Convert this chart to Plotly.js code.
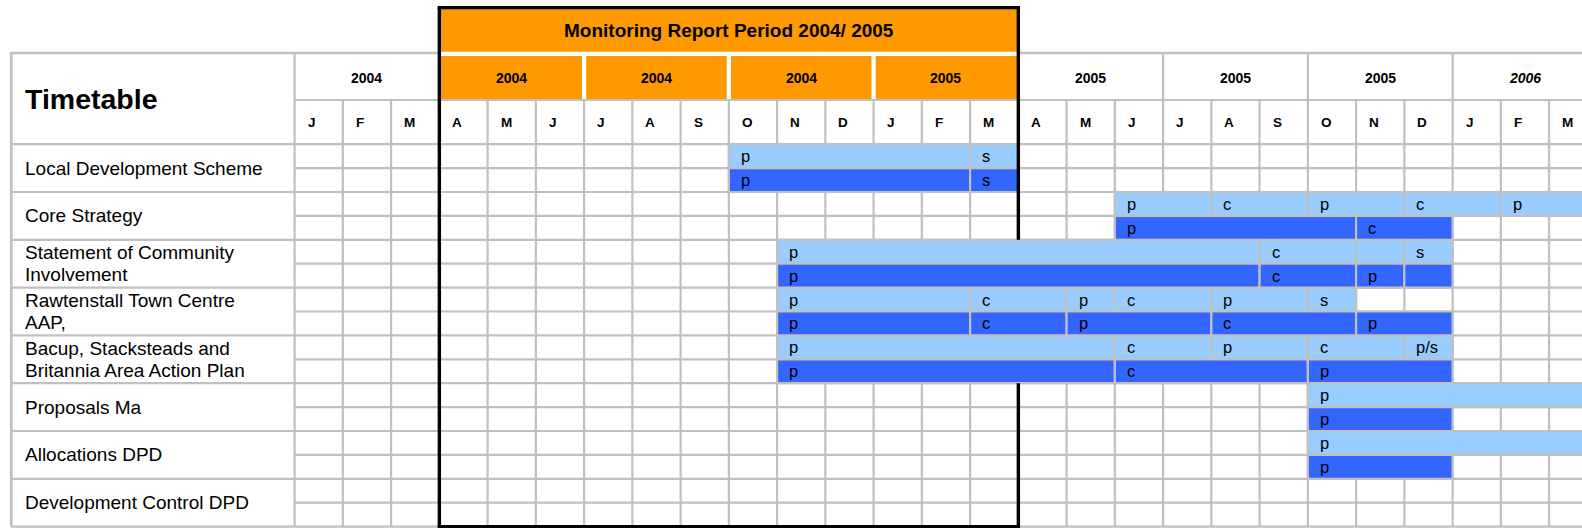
<!DOCTYPE html>
<html>
<head>
<meta charset="utf-8">
<script src="https://cdn.plot.ly/plotly-3.0.1.min.js"></script>
<style>html,body{margin:0;padding:0;background:#fff;}#chart{width:1582px;height:528px;}</style>
</head>
<body>
<div id="chart"></div>
<script>
// ---------- DATA ----------
const headerTitle = 'Timetable';
const periodTitle = 'Monitoring Report Period 2004/ 2005';
const monthLetters = ['J','F','M','A','M','J','J','A','S','O','N','D','J','F','M','A','M','J','J','A','S','O','N','D','J','F','M'];
const quarterYears = ['2004','2004','2004','2004','2005','2005','2005','2005','<i>2006</i>'];
const tasks = ['Local Development Scheme', 'Core Strategy', 'Statement of Community<br>Involvement',
  'Rawtenstall Town Centre<br>AAP,', 'Bacup, Stacksteads and<br>Britannia Area Action Plan',
  'Proposals Ma', 'Allocations DPD', 'Development Control DPD'];

// upper (light) sub-row segments: task index, start month index, end month index, stage label
const lightTask  = [0,0, 1,1,1,1,1, 2,2,2,2, 3,3,3,3,3,3, 4,4,4,4,4, 5, 6];
const lightStart = [9,14, 17,19,21,23,25, 10,20,22,23, 10,14,16,17,19,21, 10,17,19,21,23, 21, 21];
const lightEnd   = [14,15, 19,21,23,25,27, 20,22,23,24, 14,16,17,19,21,22, 17,19,21,23,24, 27, 27];
const lightLabel = ['p','s', 'p','c','p','c','p', 'p','c','','s', 'p','c','p','c','p','s', 'p','c','p','c','p/s', 'p','p'];

// lower (dark) sub-row segments
const darkTask  = [0,0, 1,1, 2,2,2,2, 3,3,3,3,3, 4,4,4, 5, 6];
const darkStart = [9,14, 17,22, 10,20,22,23, 10,14,16,19,22, 10,17,21, 21, 21];
const darkEnd   = [14,15, 22,24, 20,22,23,24, 14,16,19,22,24, 17,21,24, 24, 24];
const darkLabel = ['p','s', 'p','c', 'p','c','p','', 'p','c','p','c','p', 'p','c','p', 'p','p'];

// monitoring period (month index range) highlighted in orange
const periodStart = 3, periodEnd = 15;

// ---------- LAYOUT GEOMETRY ----------
const W = 1582, H = 528;
const X0 = 294.6, MW = 48.25;   // left edge of month grid, month width (px)
const Y0 = 144.2, SH = 23.9;    // top of task grid, sub-row height (px)
const px2x = p => (p - X0) / MW;
const px2y = p => (p - Y0) / SH;
const FONT = 'Liberation Sans, Arial, Helvetica, sans-serif';
const GRID = '#c0c0c0', GW = 2.2;
const ORANGE = '#ff9900', LIGHT = '#99ccff', DARK = '#3366ff';
const nSub = tasks.length * 2;
const nMonths = monthLetters.length;

const shapes = [];
function line(x0, y0, x1, y1, color, width, layer) {
  shapes.push({type:'line', xref:'x', yref:'y', x0, y0, x1, y1, line:{color, width}, layer: layer || 'below'});
}
function rect(x0, y0, x1, y1, fill) {
  shapes.push({type:'rect', xref:'x', yref:'y', x0, y0, x1, y1, fillcolor: fill, line:{width:0}, layer:'below'});
}

// orange header blocks
rect(periodStart, px2y(7.6), periodEnd, px2y(51.7), ORANGE);
const gap = 2.1 / MW;
for (let q = periodStart; q < periodEnd; q += 3) {
  rect(q === periodStart ? q : q + gap, px2y(56), q + 3 === periodEnd ? q + 3 : q + 3 - gap, px2y(99.2), ORANGE);
}

// grid: table top border, left border
line(px2x(10), px2y(53), periodStart, px2y(53), GRID, 2.6);
line(periodEnd, px2y(53), px2x(W), px2y(53), GRID, 2.6);
line(px2x(11.3), px2y(53), px2x(11.3), nSub, GRID, 2.7);
// header row separators
line(0, px2y(100), px2x(W), px2y(100), GRID, GW);
// vertical lines
line(0, px2y(53), 0, nSub, GRID, GW);
for (let k = 1; k <= nMonths; k++) {
  const fromTop = (k % 3 === 0) && (k <= periodStart || k >= periodEnd);
  line(k, fromTop ? px2y(53) : px2y(100), k, nSub, GRID, GW);
}
// horizontal sub-row lines
for (let i = 0; i <= nSub; i++) {
  line(i % 2 === 0 ? px2x(11.3) : 0, i, px2x(W), i, GRID, GW);
}

// black monitoring period box (bars that run across the period edge are drawn over it)
const BK = '#000', BW = 3.4, topY = px2y(7.6), half = (BW / 2) / MW;
line(periodStart - half, topY, periodEnd + half, topY, BK, BW, 'above');
line(periodStart - half, nSub, periodEnd + half, nSub, BK, BW, 'above');
function crosses(sub, x) {
  const chk = (tArr, sArr, eArr, s) => tArr.some((t, i) => 2 * t + s === sub && sArr[i] < x && eArr[i] > x);
  return chk(lightTask, lightStart, lightEnd, 0) || chk(darkTask, darkStart, darkEnd, 1);
}
[periodStart, periodEnd].forEach(x => {
  let segStart = topY, cur = 0;
  for (let i = 0; i < nSub; i++) {
    if (crosses(i, x)) {
      if (i > segStart || segStart === topY) line(x, segStart, x, i, BK, BW, 'above');
      segStart = i + 1;
    }
  }
  if (segStart < nSub) line(x, segStart, x, nSub, BK, BW, 'above');
});

// ---------- TRACES ----------
function barTrace(taskArr, startArr, endArr, sub, color) {
  return {
    type:'bar', orientation:'h',
    y: taskArr.map(t => 2 * t + sub + 0.5),
    base: startArr,
    x: endArr.map((e, i) => e - startArr[i]),
    width: taskArr.map(() => 1),
    marker:{color, line:{color: GRID, width: GW}},
    hoverinfo:'skip', showlegend:false
  };
}
const traces = [
  barTrace(lightTask, lightStart, lightEnd, 0, LIGHT),
  barTrace(darkTask, darkStart, darkEnd, 1, DARK)
];

// ---------- ANNOTATIONS ----------
const ann = [];
function txt(x, y, text, size, bold, anchor, xshift) {
  ann.push({x, y, xref:'x', yref:'y', text: bold ? '<b>' + text + '</b>' : text, showarrow:false,
    xanchor: anchor || 'center', yanchor:'middle', xshift: xshift || 0, borderpad:0, borderwidth:0,
    font:{family: FONT, size, color:'#000'}});
}
txt((periodStart + periodEnd) / 2, px2y(30.5), periodTitle, 19, true);
txt(px2x(25), px2y(98.5), headerTitle, 28.5, true, 'left');
quarterYears.forEach((y, j) => txt(3 * j + 1.5, px2y(77.5), y, 14, true));
monthLetters.forEach((m, k) => txt(k, px2y(122.2), m, 13.5, true, 'left', 13));
tasks.forEach((t, g) => {
  const lines = t.split('<br>');
  lines.forEach((l, li) => {
    txt(px2x(25), 2 * g + 1 + (li - (lines.length - 1) / 2) * 22 / SH, l, 19, false, 'left');
  });
});
lightLabel.forEach((l, i) => { if (l) txt(lightStart[i], 2 * lightTask[i] + 0.5, l, 16.5, false, 'left', 12); });
darkLabel.forEach((l, i) => { if (l) txt(darkStart[i], 2 * darkTask[i] + 1.5, l, 16.5, false, 'left', 12); });

const layout = {
  width: W, height: H, margin:{l:0, r:0, t:0, b:0, pad:0},
  paper_bgcolor:'#fff', plot_bgcolor:'#fff', showlegend:false, barmode:'overlay',
  xaxis:{range:[px2x(0), px2x(W)], visible:false, fixedrange:true},
  yaxis:{range:[px2y(H), px2y(0)], visible:false, fixedrange:true, type:'linear'},
  shapes, annotations: ann
};
Plotly.newPlot('chart', traces, layout, {staticPlot:true, displayModeBar:false});
</script>
</body>
</html>
